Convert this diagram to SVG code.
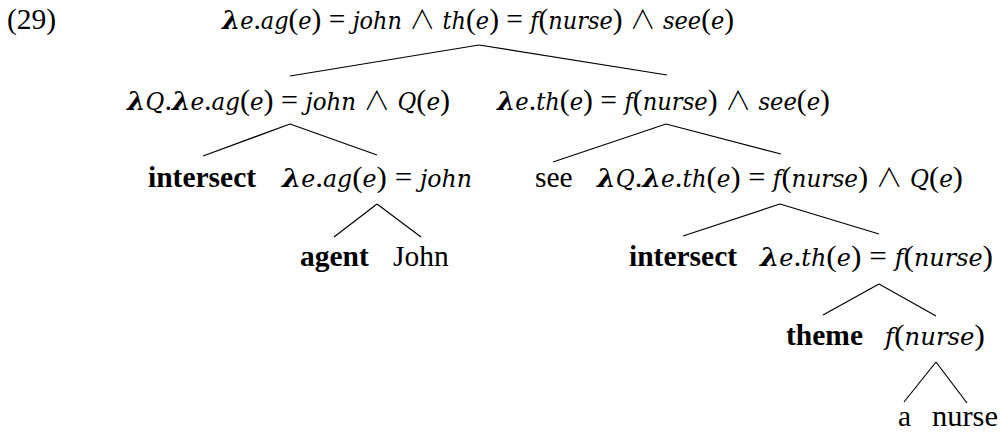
<svg xmlns="http://www.w3.org/2000/svg" width="1001" height="433" viewBox="0 0 1001 433">
<style>
.t{font-family:"Liberation Serif",serif;font-size:29.5px;fill:#000}
.i{font-family:"DejaVu Serif Condensed","DejaVu Serif",serif;font-style:italic;font-size:25px}
.b{font-weight:bold}
.l{font-family:"DejaVu Serif",serif;font-style:italic;font-weight:bold;font-size:26px}
.w{font-family:"Noto Sans CJK JP",sans-serif;font-weight:300;font-size:26px}
.e line{stroke:#000;stroke-width:1.2;fill:none}
</style>
<rect width="1001" height="433" fill="#fff"/>
<g id="label"><text class="t" x="7" y="29">(29)</text></g>
<g id="n-root"><text class="t" x="222" y="29" textLength="512" lengthAdjust="spacingAndGlyphs"><tspan class="l">λ</tspan><tspan class="i">e</tspan>.<tspan class="i">ag</tspan>(<tspan class="i">e</tspan>) = <tspan class="i">john</tspan> <tspan class="w">∧</tspan> <tspan class="i">th</tspan>(<tspan class="i">e</tspan>) = <tspan class="i">f</tspan>(<tspan class="i">nurse</tspan>) <tspan class="w">∧</tspan> <tspan class="i">see</tspan>(<tspan class="i">e</tspan>)</text></g>
<g id="n-agent-q"><text class="t" x="127" y="110" textLength="323" lengthAdjust="spacingAndGlyphs"><tspan class="l">λ</tspan><tspan class="i">Q</tspan>.<tspan class="l">λ</tspan><tspan class="i">e</tspan>.<tspan class="i">ag</tspan>(<tspan class="i">e</tspan>) = <tspan class="i">john</tspan> <tspan class="w">∧</tspan> <tspan class="i">Q</tspan>(<tspan class="i">e</tspan>)</text></g>
<g id="n-vp"><text class="t" x="497" y="110" textLength="333" lengthAdjust="spacingAndGlyphs"><tspan class="l">λ</tspan><tspan class="i">e</tspan>.<tspan class="i">th</tspan>(<tspan class="i">e</tspan>) = <tspan class="i">f</tspan>(<tspan class="i">nurse</tspan>) <tspan class="w">∧</tspan> <tspan class="i">see</tspan>(<tspan class="i">e</tspan>)</text></g>
<g id="n-intersect1"><text class="t b" x="148" y="187">intersect</text></g>
<g id="n-agjohn"><text class="t" x="282" y="187" textLength="190" lengthAdjust="spacingAndGlyphs"><tspan class="l">λ</tspan><tspan class="i">e</tspan>.<tspan class="i">ag</tspan>(<tspan class="i">e</tspan>) = <tspan class="i">john</tspan></text></g>
<g id="n-see"><text class="t" x="535" y="187">see</text></g>
<g id="n-theme-q"><text class="t" x="597" y="187" textLength="366" lengthAdjust="spacingAndGlyphs"><tspan class="l">λ</tspan><tspan class="i">Q</tspan>.<tspan class="l">λ</tspan><tspan class="i">e</tspan>.<tspan class="i">th</tspan>(<tspan class="i">e</tspan>) = <tspan class="i">f</tspan>(<tspan class="i">nurse</tspan>) <tspan class="w">∧</tspan> <tspan class="i">Q</tspan>(<tspan class="i">e</tspan>)</text></g>
<g id="n-agent"><text class="t b" x="300" y="266">agent</text></g>
<g id="n-John"><text class="t" x="393" y="266">John</text></g>
<g id="n-intersect2"><text class="t b" x="629" y="266">intersect</text></g>
<g id="n-thnurse"><text class="t" x="760" y="266" textLength="233" lengthAdjust="spacingAndGlyphs"><tspan class="l">λ</tspan><tspan class="i">e</tspan>.<tspan class="i">th</tspan>(<tspan class="i">e</tspan>) = <tspan class="i">f</tspan>(<tspan class="i">nurse</tspan>)</text></g>
<g id="n-theme"><text class="t b" x="786" y="345">theme</text></g>
<g id="n-fnurse"><text class="t" x="885" y="345" textLength="100" lengthAdjust="spacingAndGlyphs"><tspan class="i">f</tspan>(<tspan class="i">nurse</tspan>)</text></g>
<g id="n-a"><text class="t" x="898" y="426">a</text></g>
<g id="n-nurse"><text class="t" x="932" y="426" textLength="66" lengthAdjust="spacingAndGlyphs">nurse</text></g>
<g id="edges" class="e">
<line x1="479" y1="45" x2="290" y2="76"/>
<line x1="479" y1="45" x2="667" y2="75"/>
<line x1="290" y1="124" x2="203" y2="156"/>
<line x1="290" y1="124" x2="377" y2="155"/>
<line x1="666" y1="124" x2="553" y2="162"/>
<line x1="666" y1="124" x2="781" y2="154"/>
<line x1="377" y1="204" x2="334" y2="237"/>
<line x1="377" y1="204" x2="421" y2="237"/>
<line x1="780" y1="204" x2="683" y2="236"/>
<line x1="780" y1="204" x2="879" y2="234"/>
<line x1="879" y1="284" x2="823" y2="315"/>
<line x1="879" y1="284" x2="936" y2="316"/>
<line x1="936" y1="362" x2="904" y2="402"/>
<line x1="936" y1="362" x2="967" y2="403"/>
</g>
</svg>
